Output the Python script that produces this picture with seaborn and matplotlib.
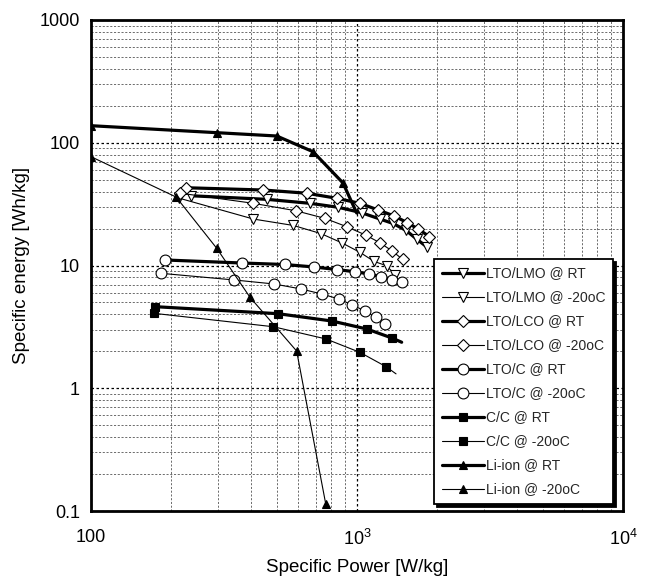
import numpy as np
import pandas as pd
import matplotlib
matplotlib.use("Agg")
import matplotlib.pyplot as plt
from matplotlib.ticker import FixedLocator, FixedFormatter, LogLocator, NullFormatter
import seaborn as sns

# ---- data ----
lmo_rt_x = [237, 458, 666, 851, 1041, 1220, 1366, 1529, 1677, 1828]
lmo_rt_y = [37.0, 34.6, 32.1, 29.8, 26.9, 23.9, 22.0, 19.3, 16.4, 14.2]

lmo_m20_x = [215, 408, 576, 732, 882, 1026, 1159, 1291, 1395]
lmo_m20_y = [35.3, 23.9, 21.2, 18.2, 15.2, 12.8, 10.8, 9.96, 8.37]

lco_rt_x = [228, 445, 647, 839, 1026, 1202, 1381, 1546, 1700, 1870]
lco_rt_y = [43.0, 41.2, 38.8, 35.3, 32.1, 28.3, 25.3, 22.3, 19.8, 17.2]

lco_m20_x = [217, 408, 590, 758, 915, 1078, 1220, 1358, 1485]
lco_m20_y = [38.8, 32.1, 27.9, 24.2, 20.7, 17.7, 15.3, 13.1, 11.2]

ltoc_rt_x = [190, 369, 534, 692, 843, 983, 1111, 1231, 1358, 1476]
ltoc_rt_y = [11.09, 10.48, 10.19, 9.72, 9.26, 8.89, 8.53, 8.11, 7.68, 7.27]

ltoc_m20_x = [183, 346, 488, 616, 737, 854, 960, 1072, 1179, 1278]
ltoc_m20_y = [8.64, 7.62, 7.07, 6.44, 5.86, 5.34, 4.77, 4.26, 3.78, 3.34]

cc_rt_x = [174, 505, 804, 1088, 1351, 1472]
cc_rt_y = [4.62, 4.05, 3.53, 3.04, 2.57, 2.37]

cc_m20_x = [172, 485, 765, 1026, 1285, 1402]
cc_m20_y = [4.08, 3.17, 2.52, 1.96, 1.50, 1.31]

liion_rt_x = [100, 297, 499, 683, 886, 997]
liion_rt_y = [137.7, 120.8, 113.5, 84.6, 47.0, 26.8]

liion_m20_x = [100, 209, 297, 396, 593, 763]
liion_m20_y = [77.0, 36.1, 13.8, 5.51, 2.01, 0.114]

x_tick_vals = [100, 1000, 10000]
x_tick_labels = ["100", "$10^3$", "$10^4$"]
y_tick_vals = [0.1, 1, 10, 100, 1000]
y_tick_labels = ["0.1", "1", "10", "100", "1000"]

# ---- style ----
sns.set_theme(style="white")
plt.rcParams["font.family"] = ["Liberation Sans", "DejaVu Sans"]
plt.rcParams["mathtext.fontset"] = "custom"
plt.rcParams["mathtext.rm"] = "Liberation Sans"
plt.rcParams["mathtext.it"] = "Liberation Sans"

fig = plt.figure(figsize=(6.48, 5.83), dpi=100)
ax = fig.add_axes([91 / 648, 1 - 511 / 583, (623 - 91) / 648, (511 - 20) / 583])
ax.set_xscale("log")
ax.set_yscale("log")

THICK = 2.3
THIN = 0.8

series = [
    ("LTO/LMO @ RT", lmo_rt_x, lmo_rt_y, THICK, "v", 7.0, "white", None),
    ("LTO/LMO @ -20oC", lmo_m20_x, lmo_m20_y, THIN, "v", 7.0, "white", None),
    ("LTO/LCO @ RT", lco_rt_x, lco_rt_y, THICK, "D", 5.8, "white", None),
    ("LTO/LCO @ -20oC", lco_m20_x, lco_m20_y, THIN, "D", 5.8, "white", None),
    ("LTO/C @ RT", ltoc_rt_x, ltoc_rt_y, THICK, "o", 7.8, "white", None),
    ("LTO/C @ -20oC", ltoc_m20_x, ltoc_m20_y, THIN, "o", 7.8, "white", None),
    ("C/C @ RT", cc_rt_x, cc_rt_y, THICK, "s", 6.2, "black", slice(0, -1)),
    ("C/C @ -20oC", cc_m20_x, cc_m20_y, THIN, "s", 6.2, "black", slice(0, -1)),
    ("Li-ion @ RT", liion_rt_x, liion_rt_y, THICK, "^", 5.5, "black", slice(0, -1)),
    ("Li-ion @ -20oC", liion_m20_x, liion_m20_y, THIN, "^", 5.5, "black", None),
]

for label, xs, ys, lw, mk, ms, mfc, mev in series:
    df = pd.DataFrame({"x": xs, "y": ys})
    kw = dict(color="black", linewidth=lw, marker=mk, markersize=ms,
              markerfacecolor=mfc, markeredgecolor="black", markeredgewidth=0.8,
              label=label, sort=False, estimator=None)
    if mev is not None:
        kw["markevery"] = mev
    sns.lineplot(data=df, x="x", y="y", ax=ax, **kw)

ax.set_xlim(100, 10000)
ax.set_ylim(0.1, 1000)

ax.xaxis.set_major_locator(FixedLocator(x_tick_vals))
ax.xaxis.set_major_formatter(FixedFormatter(x_tick_labels))
ax.yaxis.set_major_locator(FixedLocator(y_tick_vals))
ax.yaxis.set_major_formatter(FixedFormatter(y_tick_labels))
ax.xaxis.set_minor_locator(LogLocator(base=10, subs=np.arange(2, 10)))
ax.yaxis.set_minor_locator(LogLocator(base=10, subs=np.arange(2, 10)))
ax.xaxis.set_minor_formatter(NullFormatter())
ax.yaxis.set_minor_formatter(NullFormatter())

ax.grid(True, which="major", color="black", linestyle=(0, (2, 2)), linewidth=0.9)
ax.grid(True, which="minor", color="#555555", linestyle=(0, (2.5, 2)), linewidth=0.6)
ax.set_axisbelow(True)

ax.tick_params(axis="both", which="both", length=0, labelsize=13, colors="black")
ax.tick_params(axis="x", pad=13)
ax.tick_params(axis="y", pad=8)

for s in ax.spines.values():
    s.set_visible(True)
    s.set_color("black")
    s.set_linewidth(2.0)

ax.set_xlabel("Specific Power [W/kg]", fontsize=13.5, labelpad=7, color="black")
ax.set_ylabel("Specific energy [Wh/kg]", fontsize=13.5, labelpad=7, color="black")

leg = ax.legend(loc="lower right", bbox_to_anchor=(0.982, 0.014), fontsize=10,
                frameon=True, fancybox=False,
                shadow={"color": "black", "alpha": 1.0},
                edgecolor="black", framealpha=1, handlelength=3.0,
                handletextpad=0.2, labelspacing=0.72, borderpad=0.55,
                borderaxespad=0)
leg.get_frame().set_linewidth(1.3)

fig.savefig("out.png", dpi=100)
